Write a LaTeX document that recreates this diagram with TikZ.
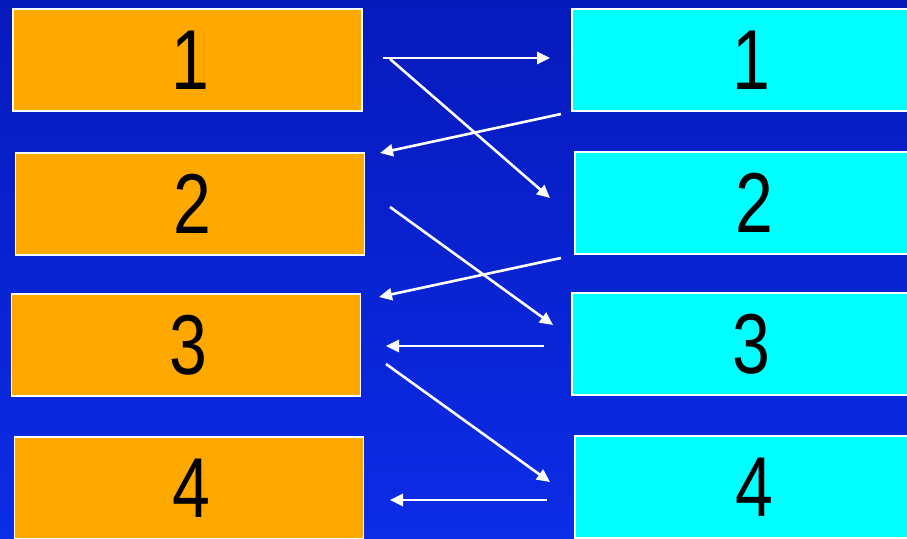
\documentclass[tikz,border=0pt]{standalone}
\usepackage{fontspec}
\setmainfont{Liberation Sans}
\newfontfamily\digitfont[FakeStretch=0.8]{Liberation Sans}
\usetikzlibrary{arrows.meta}
\definecolor{bgtop}{RGB}{6,26,188}
\definecolor{bgbot}{RGB}{12,44,230}
\definecolor{boxorange}{RGB}{255,168,0}
\definecolor{boxcyan}{RGB}{0,255,255}
\tikzset{
  leftbox/.style={draw=white, line width=1.6pt, fill=boxorange, minimum width=349pt, minimum height=102pt, inner sep=0pt, font=\digitfont\fontsize{85}{85}\selectfont},
  rightbox/.style={draw=white, line width=1.6pt, fill=boxcyan, minimum width=354pt, minimum height=102pt, inner sep=0pt, font=\digitfont\fontsize{85}{85}\selectfont},
  link/.style={draw=white, line width=2.6pt, -{Triangle[length=13pt,width=12pt]}}
}
\begin{document}
\begin{tikzpicture}[x=1pt,y=1pt]
\useasboundingbox (0,0) rectangle (907,538);
\clip (0,0) rectangle (907,538);
\shade[top color=bgtop, bottom color=bgbot] (0,0) rectangle (907,538);
% left boxes
\node[leftbox] (L1) at (187.5,478) {\hspace*{5pt}1};
\node[leftbox] (L2) at (190,334) {\hspace*{5pt}2};
\node[leftbox] (L3) at (186,193) {\hspace*{5pt}3};
\node[leftbox] (L4) at (189,50) {\hspace*{5pt}4};
% right boxes
\node[rightbox] (R1) at (749,478) {\hspace*{4pt}1};
\node[rightbox] (R2) at (752,335) {\hspace*{4pt}2};
\node[rightbox] (R3) at (749,194) {\hspace*{4pt}3};
\node[rightbox] (R4) at (752,51) {\hspace*{4pt}4};
% arrow endpoints
\coordinate (a1s) at (383,480);
\coordinate (a1e) at (550,480);
\coordinate (a2s) at (390,479);
\coordinate (a2e) at (550,340);
\coordinate (a3s) at (561,424);
\coordinate (a3e) at (380,385);
\coordinate (a4s) at (390,331);
\coordinate (a4e) at (553,213);
\coordinate (a5s) at (561,280);
\coordinate (a5e) at (379,241);
\coordinate (a6s) at (544,192);
\coordinate (a6e) at (386,192);
\coordinate (a7s) at (386,174);
\coordinate (a7e) at (550,56);
\coordinate (a8s) at (547,38);
\coordinate (a8e) at (390,38);
\draw[link] (a1s) -- (a1e);
\draw[link] (a2s) -- (a2e);
\draw[link] (a3s) -- (a3e);
\draw[link] (a4s) -- (a4e);
\draw[link] (a5s) -- (a5e);
\draw[link] (a6s) -- (a6e);
\draw[link] (a7s) -- (a7e);
\draw[link] (a8s) -- (a8e);
\end{tikzpicture}
\end{document}
